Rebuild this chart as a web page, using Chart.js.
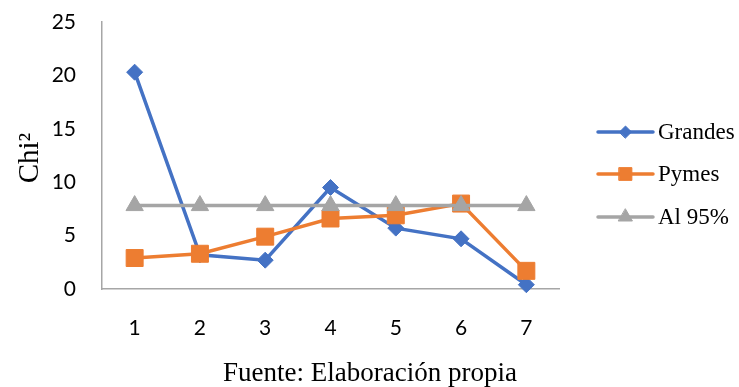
<!DOCTYPE html>
<html>
<head>
<meta charset="utf-8">
<script src="https://cdn.jsdelivr.net/npm/chart.js@4.4.1/dist/chart.umd.min.js"></script>
<style>
  html, body { margin: 0; padding: 0; background: #ffffff; }
  #wrap { width: 739px; height: 387px; position: relative; }
</style>
</head>
<body>
<div id="wrap"><canvas id="chart" width="739" height="387"></canvas></div>
<script>
// Categories on the x axis
const categories = ['1', '2', '3', '4', '5', '6', '7'];

// Chi-square values per group
const grandes = [20.3, 3.2, 2.7, 9.5, 5.7, 4.7, 0.4];
const pymes = [2.9, 3.3, 4.9, 6.6, 6.9, 8.0, 1.7];
// Critical value at 95%
const al95 = [7.81, 7.81, 7.81, 7.81, 7.81, 7.81, 7.81];

const seriesNames = ['Grandes', 'Pymes', 'Al 95%'];
const yTicks = [0, 5, 10, 15, 20, 25];
const yAxisTitle = 'Chi²';
const sourceNote = 'Fuente: Elaboración propia';

const BLUE = '#4472C4';
const ORANGE = '#ED7D31';
const GREY = '#A5A5A5';
const SERIF = '"Liberation Serif", "Times New Roman", serif';
const SANS = 'Lato, "Liberation Sans", sans-serif';

// Legend at the right (line segment with marker), axis title and source note
const annotations = {
  id: 'annotations',
  afterDraw(chart) {
    const ctx = chart.ctx;
    const x0 = 598, x1 = 653, tx = 658;
    const rows = [132, 174, 217];
    chart.data.datasets.forEach((ds, i) => {
      const y = rows[i];
      ctx.save();
      ctx.strokeStyle = ds.borderColor;
      ctx.lineWidth = 3.5;
      ctx.lineCap = 'round';
      ctx.beginPath();
      ctx.moveTo(x0, y);
      ctx.lineTo(x1, y);
      ctx.stroke();
      ctx.fillStyle = ds.borderColor;
      ctx.lineWidth = 1;
      Chart.helpers.drawPoint(ctx, {
        pointStyle: ds.pointStyle,
        radius: ds.legendRadius,
        borderWidth: 1
      }, (x0 + x1) / 2, y);
      ctx.fillStyle = '#000000';
      ctx.font = '23px ' + SERIF;
      ctx.textBaseline = 'middle';
      ctx.textAlign = 'left';
      ctx.fillText(ds.label, tx, y + 1);
      ctx.restore();
    });

    ctx.save();
    ctx.fillStyle = '#000000';
    ctx.textAlign = 'center';
    ctx.textBaseline = 'middle';
    ctx.font = '27px ' + SERIF;
    ctx.fillText(sourceNote, 370, 374);
    ctx.translate(30, 158);
    ctx.rotate(-Math.PI / 2);
    ctx.font = '29px ' + SERIF;
    ctx.fillText(yAxisTitle, 0, 0);
    ctx.restore();
  }
};

const chart = new Chart(document.getElementById('chart'), {
  type: 'line',
  data: {
    labels: categories,
    datasets: [
      {
        label: seriesNames[0],
        data: grandes,
        borderColor: BLUE,
        backgroundColor: BLUE,
        borderWidth: 3.5,
        pointStyle: 'rectRot',
        pointRadius: 8,
        pointBorderWidth: 1,
        legendRadius: 6,
        tension: 0,
        clip: false,
        order: 3
      },
      {
        label: seriesNames[1],
        data: pymes,
        borderColor: ORANGE,
        backgroundColor: ORANGE,
        borderWidth: 3.5,
        pointStyle: 'rect',
        pointRadius: 12,
        pointBorderWidth: 1,
        legendRadius: 9,
        tension: 0,
        clip: false,
        order: 2
      },
      {
        label: seriesNames[2],
        data: al95,
        borderColor: GREY,
        backgroundColor: GREY,
        borderWidth: 3.5,
        pointStyle: 'triangle',
        pointRadius: 10,
        pointBorderWidth: 1,
        legendRadius: 8,
        tension: 0,
        clip: false,
        order: 1
      }
    ]
  },
  options: {
    responsive: false,
    animation: false,
    layout: { autoPadding: false, padding: { top: 22, right: 180, bottom: 0, left: 0 } },
    plugins: {
      legend: { display: false },
      tooltip: { enabled: false },
      title: { display: false }
    },
    scales: {
      x: {
        offset: true,
        afterFit(scale) { scale.height = 98; },
        grid: { display: false, drawTicks: false },
        border: { display: true, color: '#A6A6A6', width: 1.5 },
        ticks: {
          color: '#000000',
          padding: 27,
          font: { family: SANS, size: 21 }
        }
      },
      y: {
        min: 0,
        max: 25,
        afterBuildTicks(scale) { scale.ticks = yTicks.map(v => ({ value: v })); },
        afterFit(scale) {
          scale.width = 102;
          scale.paddingTop = 0;
          scale.paddingBottom = 0;
        },
        grid: { display: false, drawTicks: false },
        border: { display: true, color: '#A6A6A6', width: 1.5 },
        ticks: {
          color: '#000000',
          padding: 26,
          font: { family: SANS, size: 21 }
        }
      }
    }
  },
  plugins: [annotations]
});
</script>
</body>
</html>
